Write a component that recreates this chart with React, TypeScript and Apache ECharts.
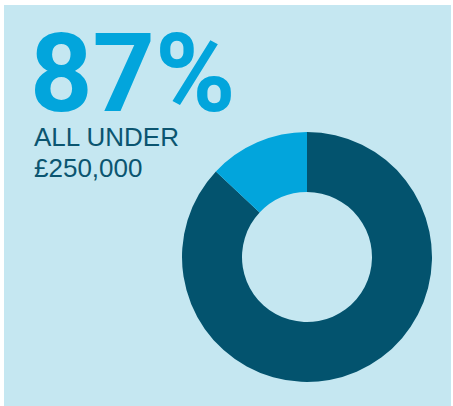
import React, { useEffect, useRef } from "react";
import * as echarts from "echarts";

const categories = ["Under £250,000", "£250,000 and over"];
const values = [87, 13];
const headline = "87%";
const captionLines = ["ALL UNDER", "£250,000"];

export default function App() {
  const ref = useRef<HTMLDivElement>(null);
  useEffect(() => {
    const chart = echarts.init(ref.current!, null, { renderer: "svg" });
    chart.setOption({
      animation: false,
      backgroundColor: "#ffffff",
      graphic: [
        {
          type: "rect",
          shape: { x: 4, y: 5, width: 447, height: 401 },
          style: { fill: "#c5e7f1" },
          z: -10,
        },
        {
          type: "text",
          x: 30,
          y: 34,
          style: {
            text: headline,
            font: "bold 109px Roboto",
            lineHeight: 80,
            fill: "#02a5dc",
            verticalAlign: "top",
          },
        },
        {
          type: "text",
          x: 34,
          y: 124,
          style: {
            text: captionLines[0],
            font: "26px 'Liberation Sans'",
            fill: "#0b5570",
            verticalAlign: "top",
          },
        },
        {
          type: "text",
          x: 34,
          y: 155,
          style: {
            text: captionLines[1],
            font: "26px 'Liberation Sans'",
            fill: "#0b5570",
            verticalAlign: "top",
          },
        },
      ],
      series: [
        {
          type: "pie",
          center: [307, 257],
          radius: [65, 125],
          startAngle: 90,
          clockwise: true,
          label: { show: false },
          labelLine: { show: false },
          silent: true,
          itemStyle: { borderWidth: 0 },
          data: categories.map((name, i) => ({
            name,
            value: values[i],
            itemStyle: { color: i === 0 ? "#03536e" : "#02a5dc" },
          })),
        },
      ],
    });
    return () => chart.dispose();
  }, []);
  return (
    <div
      ref={ref}
      style={{ position: "fixed", left: 0, top: 0, width: 453, height: 406 }}
    />
  );
}
